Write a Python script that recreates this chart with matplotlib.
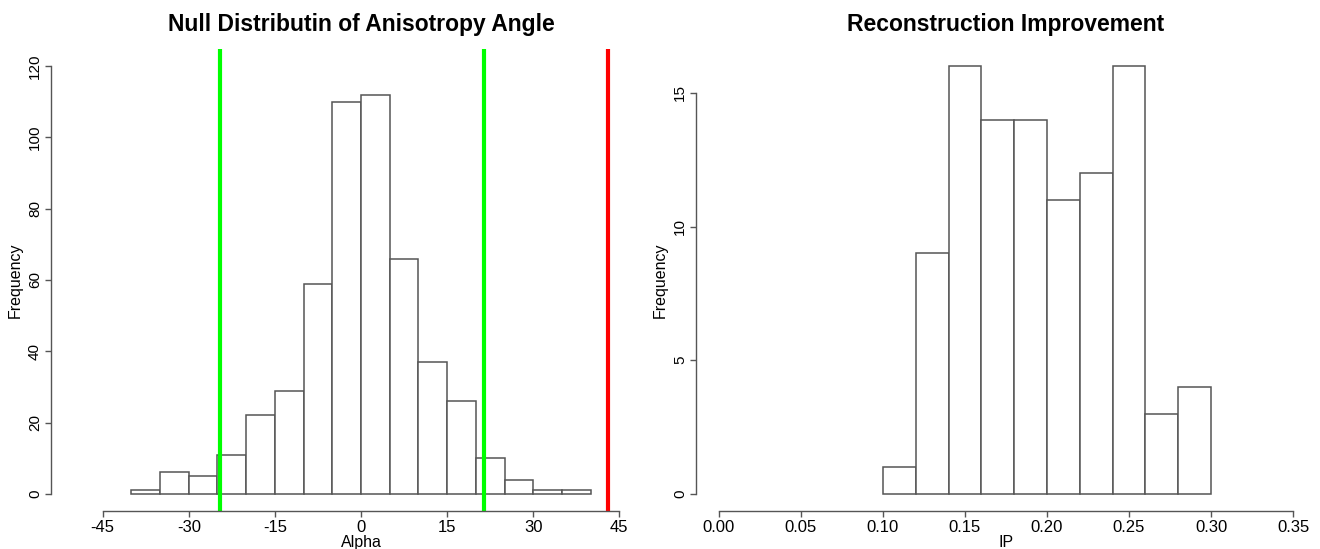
import numpy as np
import matplotlib.pyplot as plt

plt.rcParams['font.family'] = ['Liberation Sans', 'DejaVu Sans']

# Datos: histograma del ángulo (bins de 5)
alpha_edges = [-40, -35, -30, -25, -20, -15, -10, -5, 0, 5, 10, 15, 20, 25, 30, 35, 40]
alpha_counts = [1, 6, 5, 11, 22, 29, 59, 110, 112, 66, 37, 26, 10, 4, 1, 1]
green_lines = [-24.6, 21.4]
red_line = 43.1
alpha_ticks = [-45, -30, -15, 0, 15, 30, 45]
freq_ticks_left = [0, 20, 40, 60, 80, 100, 120]

# Datos: histograma de IP (bins de 0.02)
ip_edges = [0.10, 0.12, 0.14, 0.16, 0.18, 0.20, 0.22, 0.24, 0.26, 0.28, 0.30]
ip_counts = [1, 9, 16, 14, 14, 11, 12, 16, 3, 4]
ip_ticks = [0.00, 0.05, 0.10, 0.15, 0.20, 0.25, 0.30, 0.35]
freq_ticks_right = [0, 5, 10, 15]

edge_col = '#555555'

fig = plt.figure(figsize=(13.2, 5.49), dpi=100)
ax1 = fig.add_axes([51 / 1320, 1 - 511 / 549, 620 / 1320, 462 / 549])
ax2 = fig.add_axes([696 / 1320, 1 - 511 / 549, 620 / 1320, 462 / 549])


def r_style(ax, xticks, yticks, xfmt):
    for s in ['top', 'right']:
        ax.spines[s].set_visible(False)
    ax.spines['bottom'].set_bounds(xticks[0], xticks[-1])
    ax.spines['left'].set_bounds(yticks[0], yticks[-1])
    for s in ['bottom', 'left']:
        ax.spines[s].set_color('#555555')
        ax.spines[s].set_linewidth(1.0)
    ax.set_xticks(xticks)
    ax.set_xticklabels([xfmt(t) for t in xticks])
    ax.set_yticks(yticks)
    ax.set_yticklabels([str(t) for t in yticks], rotation=90, va='center')
    ax.tick_params(axis='both', length=4, width=1.0, color='#555555', pad=2.5)
    ax.tick_params(axis='x', labelsize=12)
    ax.tick_params(axis='y', labelsize=11)


# Panel izquierdo
widths = np.diff(alpha_edges)
ax1.bar(alpha_edges[:-1], alpha_counts, width=widths, align='edge',
        facecolor='white', edgecolor=edge_col, linewidth=1.1)
for g in green_lines:
    ax1.axvline(g, color='#00FF00', linewidth=3)
ax1.axvline(red_line, color='#FF0000', linewidth=3)
ax1.set_xlim(-54, 54)
ax1.set_ylim(-4.8, 124.8)
r_style(ax1, alpha_ticks, freq_ticks_left, lambda t: str(t))
ax1.set_xlabel('Alpha', fontsize=11.5, labelpad=0)
ax1.set_ylabel('Frequency', fontsize=11.5, labelpad=4)
ax1.set_title('Null Distributin of Anisotropy Angle', fontsize=16.5, fontweight='bold', pad=13)

# Panel derecho
widths = np.diff(ip_edges)
ax2.bar(ip_edges[:-1], ip_counts, width=widths, align='edge',
        facecolor='white', edgecolor=edge_col, linewidth=1.1)
ax2.set_xlim(-0.014, 0.364)
ax2.set_ylim(-0.64, 16.64)
r_style(ax2, ip_ticks, freq_ticks_right, lambda t: f'{t:.2f}')
ax2.set_xlabel('IP', fontsize=11.5, labelpad=0)
ax2.set_ylabel('Frequency', fontsize=11.5, labelpad=4)
ax2.set_title('Reconstruction Improvement', fontsize=16.5, fontweight='bold', pad=13)

fig.savefig('out.png', dpi=100)
